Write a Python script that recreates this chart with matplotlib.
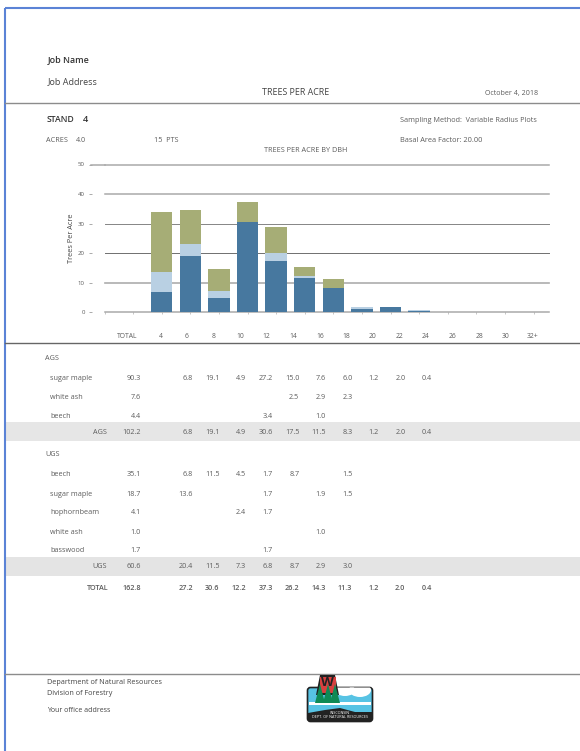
import matplotlib
matplotlib.use("Agg")
import matplotlib.pyplot as plt
from matplotlib.patches import FancyBboxPatch, Polygon, Rectangle, Ellipse

plt.rcParams['font.family'] = ['Open Sans', 'DejaVu Sans']

# chart values, one per bar slot
dbh = ['4', '6', '8', '10', '12', '14', '16', '18', '20', '22', '24', '26', '28', '30', '32+']
ags_saw = [6.8, 19.1, 4.9, 30.6, 17.5, 11.5, 8.3, 1.2, 2.0, 0.4, 0, 0, 0, 0]
ags_pole = [6.8, 3.9, 2.4, 0, 2.5, 0.9, 0, 0.6, 0, 0.4, 0, 0, 0, 0]
ugs = [20.4, 11.5, 7.5, 6.8, 8.8, 2.9, 3.0, 0, 0, 0, 0, 0, 0, 0]
y_ticks = [0, 10, 20, 30, 40, 50]
grid_colors = ['#a9a9a9', '#adadad', '#6f6f6f', '#858585', '#a9a9a9', '#a9a9a9']
grid_widths = [1.1, 1.2, 0.7, 0.7, 1.1, 1.1]

# table values, columns: total, 4, 6, 8, ... 24
ags_rows = [
    ['sugar maple', '90.3', '', '6.8', '19.1', '4.9', '27.2', '15.0', '7.6', '6.0', '1.2', '2.0', '0.4'],
    ['white ash', '7.6', '', '', '', '', '', '2.5', '2.9', '2.3', '', '', ''],
    ['beech', '4.4', '', '', '', '', '3.4', '', '1.0', '', '', '', ''],
]
ags_total = ['AGS', '102.2', '', '6.8', '19.1', '4.9', '30.6', '17.5', '11.5', '8.3', '1.2', '2.0', '0.4']
ugs_rows = [
    ['beech', '35.1', '', '6.8', '11.5', '4.5', '1.7', '8.7', '', '1.5', '', '', ''],
    ['sugar maple', '18.7', '', '13.6', '', '', '1.7', '', '1.9', '1.5', '', '', ''],
    ['hophornbeam', '4.1', '', '', '', '2.4', '1.7', '', '', '', '', '', ''],
    ['white ash', '1.0', '', '', '', '', '', '', '1.0', '', '', '', ''],
    ['basswood', '1.7', '', '', '', '', '1.7', '', '', '', '', '', ''],
]
ugs_total = ['UGS', '60.6', '', '20.4', '11.5', '7.3', '6.8', '8.7', '2.9', '3.0', '', '', '']
grand_total = ['TOTAL', '162.8', '', '27.2', '30.6', '12.2', '37.3', '26.2', '14.3', '11.3', '1.2', '2.0', '0.4']

W, H = 580, 751
fig = plt.figure(figsize=(W / 100, H / 100), dpi=100)

# page layer in pixel coordinates
page = fig.add_axes([0, 0, 1, 1])
page.set_xlim(0, W)
page.set_ylim(H, 0)
page.axis('off')

TXT = '#5c5c5c'


def txt(x, y, s, size=5.2, color=TXT, ha='left', **kw):
    page.text(x, y, s, fontsize=size, color=color, ha=ha, va='center', **kw)


# border and rules
page.plot([5, 5], [8, H], color='#5b83d6', lw=1.5, solid_capstyle='butt')
page.plot([5, W], [8, 8], color='#5b83d6', lw=1.5, solid_capstyle='butt')
for yy, c in [(103, '#8c8c8c'), (343, '#666666'), (674, '#8c8c8c')]:
    page.plot([5, W], [yy, yy], color=c, lw=1.0)

# header
txt(48, 59.5, 'Job Name', size=6.4, color='#333333', fontweight='semibold')
txt(48, 82, 'Job Address', size=6.5, color='#444444')
txt(262, 92.5, 'TREES PER ACRE', size=6.4, color='#444444')
txt(485, 94, 'October 4, 2018', size=5.1)
txt(46.5, 119.5, 'STAND', size=6.2, color='#333333', fontweight='semibold')
txt(83, 120, '4', size=6.6, color='#333333', fontweight='semibold')
txt(400, 121, 'Sampling Method:  Variable Radius Plots', size=5.25)
txt(46, 141, 'ACRES', size=5.2)
txt(76, 141, '4.0', size=5.2)
txt(153.5, 141, '15  PTS', size=5.2)
txt(400, 141, 'Basal Area Factor: 20.00', size=5.3)
txt(264.5, 150.7, 'TREES PER ACRE BY DBH', size=5.2)

# chart
x0, x1 = 104.5, 549
y0, y1 = 312.5, 164.5
ax = fig.add_axes([x0 / W, 1 - y0 / H, (x1 - x0) / W, (y0 - y1) / H])
ax.patch.set_alpha(0)
step = 28.6
xs = [i + 2 for i in range(len(ags_saw))]
bottom2 = [a + b for a, b in zip(ags_saw, ags_pole)]
ax.bar(xs, ags_saw, width=0.75, color='#47789f', zorder=3)
ax.bar(xs, ags_pole, width=0.75, bottom=ags_saw, color='#b9d0e3', zorder=3)
ax.bar(xs, ugs, width=0.75, bottom=bottom2, color='#a6ad76', zorder=3)
for v, c, w in zip(y_ticks, grid_colors, grid_widths):
    ax.axhline(v, color=c, lw=w, zorder=1, clip_on=False)
ax.plot([-0.47, 0], [50, 50], color=grid_colors[-1], lw=grid_widths[-1], clip_on=False)
for s in ax.spines.values():
    s.set_visible(False)
ax.spines['left'].set_position(('outward', 9))
ax.set_yticks(y_ticks)
ax.set_xticks(range(0, len(ags_saw) + 2))
ax.set_xticklabels([])
ax.set_xlim(0, (x1 - x0) / step)
ax.set_ylim(0, 50)
ax.tick_params(axis='y', length=2.2, width=0.5, color='#888888', labelsize=4.4, labelcolor=TXT, pad=3)
ax.tick_params(axis='x', length=1.5, width=0.4, color='#999999')
ax.set_ylabel('Trees Per Acre', fontsize=5.3, color='#444444', labelpad=2)

# column labels under the chart
col_step = 26.55
for i, lab in enumerate(dbh):
    txt(160.5 + i * col_step, 336, lab, size=4.9, ha='center')
txt(127, 336, 'TOTAL', size=4.9, ha='center')

# table
page.add_patch(Rectangle((5, 421.7), W - 5, 19, color='#e6e6e6', lw=0))
page.add_patch(Rectangle((5, 556.7), W - 5, 19.3, color='#e4e4e4', lw=0))


def row(y, cells, label_x=50, label_ha='left', **kw):
    txt(label_x, y, cells[0], ha=label_ha, **kw)
    txt(141, y, cells[1], ha='right', **kw)
    for i, c in enumerate(cells[2:]):
        if c:
            txt(166.5 + i * col_step, y, c, ha='right', **kw)


txt(45, 358, 'AGS')
for y, r in zip([378, 397.5, 416], ags_rows):
    row(y, r)
row(433, ags_total, label_x=107, label_ha='right')
txt(45, 454, 'UGS')
for y, r in zip([475, 494.5, 513, 532, 551], ugs_rows):
    row(y, r)
row(567, ugs_total, label_x=107, label_ha='right')
row(589, grand_total, label_x=109, label_ha='right', fontweight='semibold')

# footer
txt(47, 682.5, 'Department of Natural Resources', size=5.2, color='#444444')
txt(47, 693.5, 'Division of Forestry', size=5.2, color='#444444')
txt(47, 710.5, 'Your office address', size=5.0, color='#444444')

# logo
box = FancyBboxPatch((307.5, 687.5), 65, 34, boxstyle='round,pad=0,rounding_size=3',
                     fc='#57c3e4', ec='#222222', lw=1.2, zorder=4)
page.add_patch(box)
for ex, ew, eh in [(345, 20, 12), (360, 22, 14)]:
    e = Ellipse((ex, 690), ew, eh, fc='white', lw=0, zorder=5)
    page.add_patch(e)
    e.set_clip_path(box)
page.add_patch(Rectangle((309, 702), 62, 3, fc='white', lw=0, zorder=5))
page.add_patch(Polygon([[308, 713], [325, 710], [340, 708], [355, 712], [372, 712], [372, 721], [308, 721]],
                       fc='#222222', lw=0, zorder=6))
page.add_patch(Polygon([[316, 695], [320, 675], [335, 675], [339, 695]], fc='#222222', lw=0, zorder=5))
page.add_patch(Rectangle((319.5, 677), 16, 16, fc='#d8403f', lw=0, zorder=6))
for cx in [320, 328, 335]:
    page.add_patch(Polygon([[cx - 5, 703], [cx, 684], [cx + 5, 703]], fc='#0f8a55', lw=0, zorder=7))
page.text(327.5, 683, 'W', fontsize=9.5, color='#222222', ha='center', va='center', fontweight='bold', zorder=8)
page.text(340, 712.5, 'WISCONSIN', fontsize=2.6, color='white', ha='center', va='center', zorder=9)
page.text(340, 717, 'DEPT. OF NATURAL RESOURCES', fontsize=2.7, color='white', ha='center', va='center', zorder=9)

fig.savefig('out.png', dpi=100)
